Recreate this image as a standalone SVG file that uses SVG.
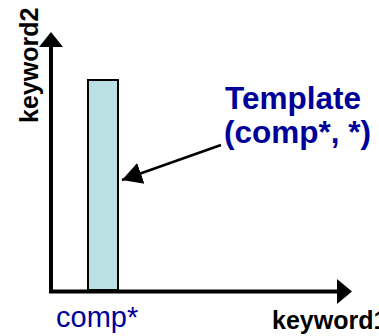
<svg xmlns="http://www.w3.org/2000/svg" width="379" height="336" viewBox="0 0 379 336">
  <style>
    .axis { fill: none; stroke: #000; stroke-width: 4; stroke-linejoin: miter; }
    .head { fill: #000; }
    .bar { fill: #bbe0e3; stroke: #000; stroke-width: 2; }
    .pointer { stroke: #000; stroke-width: 2.5; fill: none; }
    .axis-label { font-family: "Liberation Sans", Arial, sans-serif; font-weight: bold; font-size: 25px; fill: #000; }
    .blue { fill: #000099; font-family: "Liberation Sans", Arial, sans-serif; }
  </style>
  <defs>
    <marker id="arrow" markerUnits="userSpaceOnUse" markerWidth="22" markerHeight="24" refX="20" refY="12" orient="auto">
      <path d="M0,1 L20,12 L0,23 Z" fill="#000"/>
    </marker>
  </defs>

  <!-- axes -->
  <g id="axes">
    <path class="axis" d="M51,46 L51,291.5 L338,291.5"/>
    <polygon class="head" points="51,32 39,47 63,47"/>
    <polygon class="head" points="352,291.5 337,279 337,304"/>
    <text class="axis-label" transform="translate(38,123) rotate(-90)">keyword2</text>
    <text class="axis-label" x="272" y="329">keyword1</text>
  </g>

  <!-- template bar -->
  <g id="bar">
    <rect class="bar" x="88" y="80" width="30" height="210"/>
    <text class="blue" font-size="29" x="56" y="327">comp*</text>
  </g>

  <!-- callout label -->
  <g id="template-label">
    <text class="blue" font-size="31.5" font-weight="bold">
      <tspan x="225" y="109">Template</tspan>
      <tspan x="224" y="143">(comp*, *)</tspan>
    </text>
  </g>

  <!-- connectors -->
  <g id="connectors">
    <line class="pointer" x1="221" y1="145" x2="122" y2="180" marker-end="url(#arrow)"/>
  </g>
</svg>
